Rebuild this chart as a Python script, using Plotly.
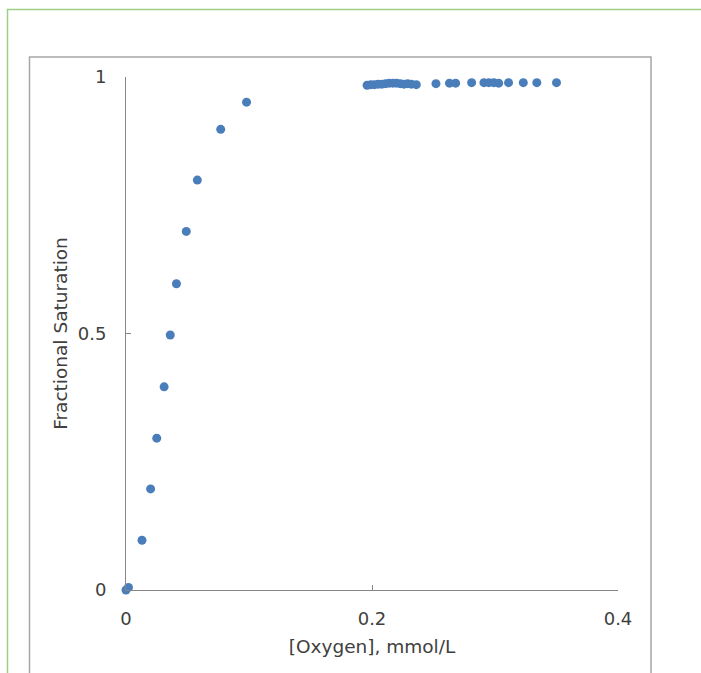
import plotly.graph_objects as go

# Data
oxygen_rise = [0.0, 0.002, 0.013, 0.020, 0.025, 0.031, 0.036, 0.041, 0.049, 0.058, 0.077, 0.098]
saturation_rise = [0.0, 0.005, 0.097, 0.197, 0.296, 0.396, 0.497, 0.597, 0.699, 0.799, 0.898, 0.951]

oxygen_plateau = [0.196, 0.199, 0.202, 0.205, 0.208, 0.211, 0.214, 0.217, 0.220, 0.223, 0.226, 0.229,
                  0.232, 0.236, 0.252, 0.263, 0.268, 0.281, 0.291, 0.295, 0.299, 0.303, 0.311,
                  0.323, 0.334, 0.350]
saturation_plateau = [0.984, 0.985, 0.985, 0.986, 0.986, 0.987, 0.988, 0.988, 0.988, 0.987, 0.986, 0.987,
                      0.986, 0.985, 0.987, 0.988, 0.988, 0.989, 0.989, 0.989, 0.989, 0.988, 0.989,
                      0.989, 0.989, 0.989]

x_ticks = [0, 0.2, 0.4]
x_tick_labels = ["0", "0.2", "0.4"]
y_ticks = [0, 0.5, 1]
y_tick_labels = ["0", "0.5", "1"]

x_vals = oxygen_rise + oxygen_plateau
y_vals = saturation_rise + saturation_plateau

fig = go.Figure()
fig.add_trace(go.Scatter(
    x=x_vals, y=y_vals, mode="markers",
    marker=dict(size=9, color="#4a7ebb"),
    cliponaxis=False, showlegend=False, hoverinfo="skip",
))

W, H = 701, 673
L, T = 126, 77
R = W - 618
B = H - 590
pw, ph = W - L - R, H - T - B

def px(x_page):
    return (x_page - L) / pw

def py(y_page):
    return (H - B - y_page) / ph

shapes = [
    # outer green frame
    dict(type="rect", xref="paper", yref="paper",
         x0=px(7.5), x1=px(730), y0=py(9.5), y1=py(720),
         line=dict(color="#9fcf86", width=1.5), fillcolor="rgba(0,0,0,0)", layer="below"),
    # inner gray chart frame
    dict(type="rect", xref="paper", yref="paper",
         x0=px(29.5), x1=px(651), y0=py(57), y1=py(720),
         line=dict(color="#a6a6a6", width=1.5), fillcolor="rgba(0,0,0,0)", layer="below"),
]

tick_font = dict(family="DejaVu Sans, Liberation Sans, sans-serif", size=18, color="#404040")
title_font = dict(family="DejaVu Sans, Liberation Sans, sans-serif", size=18.5, color="#404040")

fig.update_layout(
    width=W, height=H,
    margin=dict(l=L, r=R, t=T, b=B),
    paper_bgcolor="white", plot_bgcolor="white",
    shapes=shapes,
    font=tick_font,
    hovermode=False,
    xaxis=dict(
        range=[0, 0.4], tickvals=x_ticks, ticktext=x_tick_labels,
        ticks="inside", ticklen=5, tickcolor="#868686", tickwidth=1,
        showline=True, linecolor="#868686", linewidth=1,
        showgrid=False, zeroline=False, ticklabelstandoff=12,
        title=dict(text="[Oxygen], mmol/L", font=title_font, standoff=12),
        tickfont=tick_font,
    ),
    yaxis=dict(
        range=[0, 1], tickvals=y_ticks, ticktext=y_tick_labels,
        ticks="inside", ticklen=5, tickcolor="#868686", tickwidth=1,
        showline=True, linecolor="#868686", linewidth=1,
        showgrid=False, zeroline=False, ticklabelstandoff=15,
        title=dict(text="Fractional Saturation", font=title_font, standoff=5),
        tickfont=tick_font,
    ),
)

fig.write_html("out.html",
               config={"displayModeBar": False},
               post_script="document.body.style.margin='0';document.body.style.overflow='hidden';")
